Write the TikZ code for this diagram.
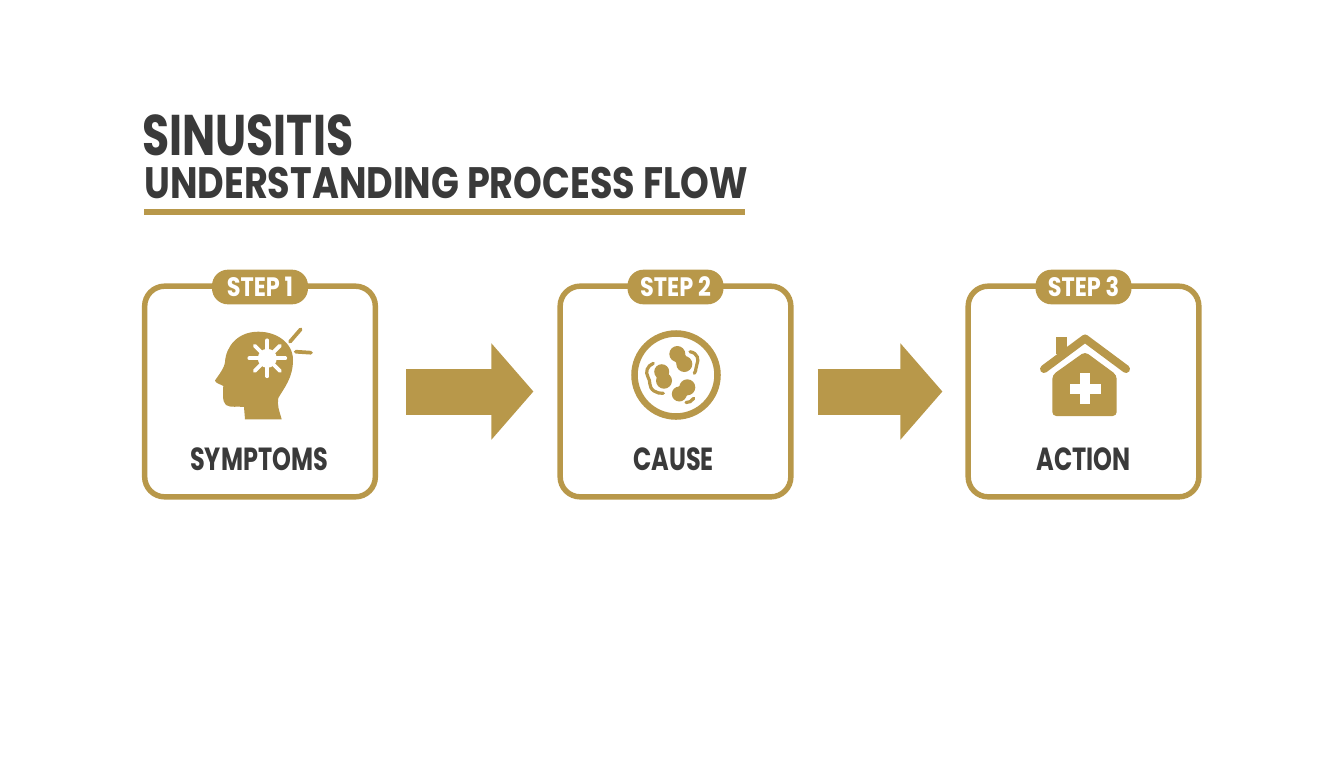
\documentclass[tikz,border=0pt]{standalone}
\usepackage{fontspec}
\setmainfont{Poppins}
\newfontfamily\titlefont[FakeStretch=0.77]{Poppins}
\newfontfamily\subtitlefont[FakeStretch=0.832]{Poppins}
\newfontfamily\badgefont[FakeStretch=0.84]{Poppins}
\newfontfamily\cardfont[FakeStretch=0.75]{Poppins}
\usetikzlibrary{arrows.meta}
\definecolor{gold}{RGB}{184,152,74}
\definecolor{ink}{RGB}{58,58,58}
\tikzset{
  stepcard/.style={draw=gold,line width=4.1pt,rounded corners=15pt,fill=white,minimum width=173pt,minimum height=158pt},
  badge/.style={fill=gold,text=white,rounded corners=12pt,minimum width=72pt,minimum height=26pt,inner sep=0pt,font=\badgefont\bfseries\fontsize{20}{22}\selectfont},
  cardlabel/.style={text=ink,inner sep=0pt,font=\cardfont\bfseries\fontsize{24}{26}\selectfont},
  titletext/.style={text=ink,anchor=west,inner sep=0pt},
  flowarrow/.style={draw=gold,line width=34.5pt,-{Triangle[length=31.5pt,width=70.5pt]}},
  ray/.style={draw=gold,line width=2.8pt,line cap=round},
  germ/.style={draw=gold,line width=2.4pt,line cap=round}
}
\begin{document}
\begin{tikzpicture}[x=0.75pt,y=0.75pt,yscale=-1,xscale=1]
\useasboundingbox (0,0) rectangle (1344,768);

% Text Node
\node [titletext,font=\titlefont\bfseries\fontsize{43}{50}\selectfont] (title) at (142,135) {SINUSITIS};
% Text Node
\node [titletext,font=\subtitlefont\bfseries\fontsize{33}{38}\selectfont] (subtitle) at (144,183) {UNDERSTANDING PROCESS FLOW};
%Straight Lines
\fill [gold] (144,209) rectangle (745,215);

%Shape: Rectangle
\node [stepcard] (symptomsbox) at (260,391.5) {};
\node [stepcard] (causebox) at (675.5,391.5) {};
\node [stepcard] (actionbox) at (1083.5,391.5) {};

% Text Node
\node [badge] (stepone) at (260,287) {STEP 1};
\node [badge] (steptwo) at (675.5,287) {STEP 2};
\node [badge] (stepthree) at (1083.5,287) {STEP 3};
% Text Node
\node [cardlabel] (symptoms) at (259,459) {SYMPTOMS};
\node [cardlabel] (cause) at (673.5,459) {CAUSE};
\node [cardlabel] (action) at (1083.5,459) {ACTION};

%Straight Lines
\draw [flowarrow,shorten <=21pt,shorten >=18pt] (symptomsbox) -- (causebox);
\draw [flowarrow,shorten <=18pt,shorten >=17.25pt] (causebox) -- (actionbox);

%Shape: head
\fill [gold] (245,419.3) -- (281.7,419.3) .. controls (279,410) and (277,405) .. (278.3,398)
  .. controls (284,388) and (293,378) .. (293,360)
  .. controls (293,343) and (277,331.7) .. (258.3,331.7)
  .. controls (238,331.7) and (226,346) .. (225,362)
  .. controls (224.5,368) and (218,376) .. (215,380.5)
  .. controls (215,383) and (220,384) .. (223.3,386)
  .. controls (223,392) and (222,402) .. (226,405)
  .. controls (230,408) and (238,406) .. (244,407) -- cycle;
\fill [white] (267.3,358.3) circle (9.5);
\foreach \a in {0,45,...,315}
  \draw [white,line width=2.8pt,line cap=round] (267.3,358.3) -- ++(\a:18);
\draw [ray] (290,341.7) -- (300.7,329.3);
\draw [ray] (295.7,351.7) -- (311,352.7);

%Shape: microbe
\draw [gold,line width=4.9pt] (676,375) circle (41.5);
\draw [gold,line width=9pt] (677.3,354) -- (684.3,364);
\fill [gold] (677.3,354) circle (8) (684.3,364) circle (8);
\draw [gold,line width=9pt] (661.7,371.7) -- (664,380.7);
\fill [gold] (661.7,371.7) circle (7.5) (664,380.7) circle (8);
\draw [gold,line width=9pt] (687.3,387.3) -- (679.3,394);
\fill [gold] (687.3,387.3) circle (8) (679.3,394) circle (7.5);
\draw [germ] (690,351.7) .. controls (698,353) and (699,360) .. (697,364) .. controls (695,367) and (697,370) .. (694.3,373.3);
\draw [germ] (653.3,363.3) .. controls (647,366) and (645,372) .. (648,377) .. controls (651,381) and (648,387) .. (654,391) .. controls (657,393) and (660,393.5) .. (663.3,393.3);
\draw [germ] (686,402.5) .. controls (689,403) and (692,401) .. (693.7,398.3);

%Shape: house
\fill [gold,rounded corners=3pt] (1052.3,416) -- (1116.7,416) -- (1116.7,375) -- (1085,351.7) -- (1052.3,375) -- cycle;
\fill [gold] (1056,336.7) rectangle (1067.3,354);
\draw [gold,line width=6pt,line cap=round,line join=round] (1044,369) -- (1085,338.5) -- (1126,369);
\fill [white] (1069.5,383.5) rectangle (1100.5,393.5);
\fill [white] (1080,373) rectangle (1090,404);
\end{tikzpicture}
\end{document}
